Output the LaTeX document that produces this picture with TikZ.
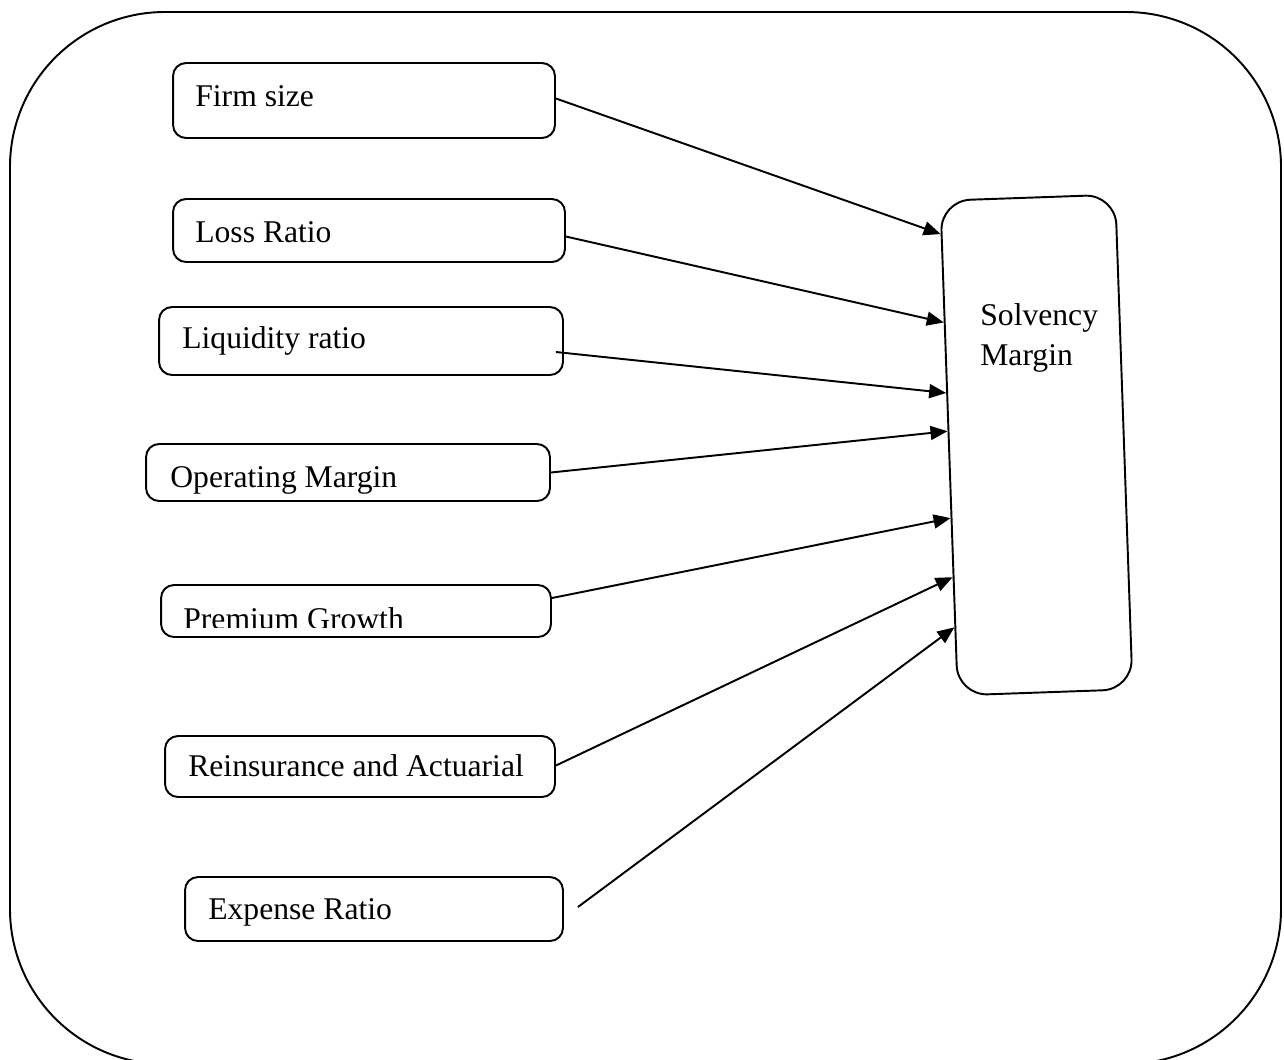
\documentclass[tikz,border=0pt]{standalone}
\usepackage{fontspec}
\setmainfont{Liberation Serif}
\usetikzlibrary{arrows.meta,calc}
\begin{document}
\begin{tikzpicture}[x=0.02cm,y=-0.02cm,
  box/.style={draw,line width=1.1pt,rounded corners=0.26cm,inner sep=0pt},
  lbl/.style={anchor=base west,inner sep=0pt,font=\fontsize{18}{22.7}\selectfont},
  conn/.style={line width=1.1pt,-{Triangle[length=0.34cm,width=0.28cm]}}]
\useasboundingbox (0,0) rectangle (1284,1059);
\clip (0,0) rectangle (1284,1059);
% outer frame
\draw[line width=1.1pt,rounded corners=3.1cm] (10,12) rectangle (1281,1064);
% input boxes
\node[box,minimum width=7.64cm,minimum height=1.50cm] (firm) at (364,100.5) {};
\node[box,minimum width=7.84cm,minimum height=1.26cm] (loss) at (369,230.5) {};
\node[box,minimum width=8.08cm,minimum height=1.36cm] (liq) at (361,341) {};
\node[box,minimum width=8.08cm,minimum height=1.14cm] (ops) at (348,472.5) {};
\node[box,minimum width=7.80cm,minimum height=1.04cm] (prem) at (356,611) {};
\node[box,minimum width=7.80cm,minimum height=1.22cm] (reins) at (360,766.5) {};
\node[box,minimum width=7.56cm,minimum height=1.28cm] (exp) at (374,909) {};
% labels
\node[lbl] (firmt) at (195,106) {Firm size};
\node[lbl] (losst) at (195,242) {Loss Ratio};
\node[lbl] (liqt) at (182,348) {Liquidity ratio};
\begin{scope}
\clip (146,444) rectangle (550,493);
\node[lbl] (opst) at (170,487) {Operating Margin};
\end{scope}
\begin{scope}
\clip (161,585) rectangle (551,627);
\node[lbl] (premt) at (183,629) {Premium Growth};
\end{scope}
\node[lbl] (reinst) at (188,776) {Reinsurance and Actuarial};
\node[lbl] (expt) at (208,919) {Expense Ratio};
% target
\node[box,rounded corners=0.6cm,minimum width=3.5cm,minimum height=9.9cm,rotate=2] (solv) at (1036.5,445) {};
\node[lbl] (solvt1) at (980,325) {Solvency};
\node[lbl] (solvt2) at (980,365) {Margin};
% arrow tips on the left edge of the target
\coordinate (e1) at ($(solv.north west)!0.069!(solv.south west)$);
\coordinate (e2) at ($(solv.north west)!0.247!(solv.south west)$);
\coordinate (e3) at ($(solv.north west)!0.389!(solv.south west)$);
\coordinate (e4) at ($(solv.north west)!0.466!(solv.south west)$);
\coordinate (e5) at ($(solv.north west)!0.641!(solv.south west)$);
\coordinate (e6) at ($(solv.north west)!0.760!(solv.south west)$);
\coordinate (e7) at ($(solv.north west)!0.861!(solv.south west)$);
% connectors
\draw[conn] ($(firm.east)+(0,-2)$) -- (e1);
\draw[conn] ($(loss.east)+(0,6)$) -- (e2);
\draw[conn] ($(liq.east)+(-8,11)$) -- (e3);
\draw[conn] (ops.east) -- (e4);
\draw[conn] ($(prem.east)+(0,-13)$) -- (e5);
\draw[conn] ($(reins.east)+(0,-1)$) -- (e6);
\draw[conn] ($(exp.east)+(14,-2)$) -- (e7);
\end{tikzpicture}
\end{document}
